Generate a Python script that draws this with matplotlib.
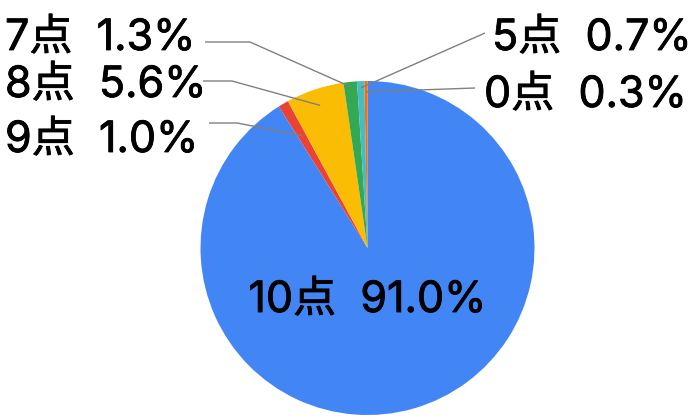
import matplotlib
matplotlib.use('Agg')
import matplotlib.pyplot as plt
import matplotlib.patheffects as pe
import numpy as np

labels = ['10点', '9点', '8点', '7点', '5点', '0点']
values = [91.0, 1.0, 5.6, 1.3, 0.7, 0.3]
colors = ['#4285F4', '#EA4335', '#FBBC04', '#34A853', '#46BDC6', '#FF6D01']

plt.rcParams['font.family'] = ['Inter', 'Noto Sans CJK JP', 'DejaVu Sans']

fig = plt.figure(figsize=(7, 4.2), dpi=100)
ax = fig.add_axes([0, 0, 1, 1])
CX, CY, R = 367.5, 172, 167
wedges, _ = ax.pie(values, colors=colors, startangle=90, counterclock=False,
                   center=(CX, CY), radius=R, wedgeprops=dict(linewidth=0))
ax.set_xlim(0, 700)
ax.set_ylim(0, 420)
ax.set_aspect('equal')
ax.axis('off')

FS = 31
thick = [pe.withStroke(linewidth=0.6, foreground='#000000')]
SEP = '  '

# inner label for the big slice
ax.text(CX, 108, f'{labels[0]}{SEP}{values[0]:.1f}%', ha='center', va='baseline',
        fontsize=FS, color='#000000', path_effects=thick)

# layout for outside labels: index -> (text x, text baseline y, ha, line start, knee or None, radial fraction)
layout = {
    3: (5, 370, 'left', (205, 378), (250, 378), 0.97),
    2: (5, 323, 'left', (203, 339), (232, 339), 0.90),
    1: (5, 268, 'left', (209, 297), (237, 297), 0.78),
    4: (492, 370, 'left', (485, 387), None, 0.96),
    5: (484, 313, 'left', (475, 332), None, 0.935),
}
for i, (tx, ty, ha, start, knee, frac) in layout.items():
    w = wedges[i]
    mid = np.deg2rad((w.theta1 + w.theta2) / 2)
    px = CX + frac * R * np.cos(mid)
    py = CY + frac * R * np.sin(mid)
    xs = [start[0]] + ([knee[0]] if knee else []) + [px]
    ys = [start[1]] + ([knee[1]] if knee else []) + [py]
    ax.plot(xs, ys, color='#808080', lw=1, solid_capstyle='butt')
    ax.text(tx, ty, f'{labels[i]}{SEP}{values[i]:.1f}%', ha=ha, va='baseline',
            fontsize=FS, color='#000000', path_effects=thick)

fig.savefig('out.png', dpi=100)
